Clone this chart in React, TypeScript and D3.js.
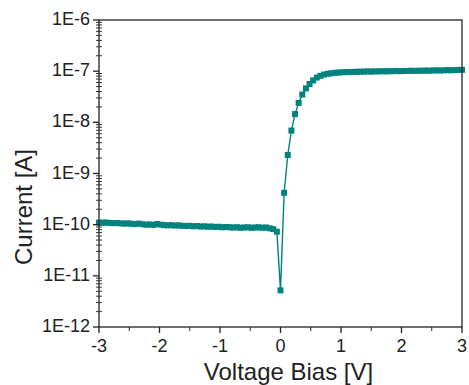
import React from "react";
import * as d3 from "d3";

const voltages: number[] = [
  -3.0, -2.94, -2.88, -2.82, -2.76, -2.7, -2.64, -2.58, -2.52, -2.46,
  -2.4, -2.34, -2.28, -2.22, -2.16, -2.1, -2.04, -1.98, -1.92, -1.86,
  -1.8, -1.74, -1.68, -1.62, -1.56, -1.5, -1.44, -1.38, -1.32, -1.26,
  -1.2, -1.14, -1.08, -1.02, -0.96, -0.9, -0.84, -0.78, -0.72, -0.66,
  -0.6, -0.54, -0.48, -0.42, -0.36, -0.3, -0.24, -0.18, -0.12, -0.06,
  0.0,
  0.06, 0.12, 0.18, 0.24, 0.3, 0.36, 0.42, 0.48, 0.54, 0.6,
  0.66, 0.72, 0.78, 0.84, 0.9, 0.96, 1.02, 1.08, 1.14, 1.2,
  1.26, 1.32, 1.38, 1.44, 1.5, 1.56, 1.62, 1.68, 1.74, 1.8,
  1.86, 1.92, 1.98, 2.04, 2.1, 2.16, 2.22, 2.28, 2.34, 2.4,
  2.46, 2.52, 2.58, 2.64, 2.7, 2.76, 2.82, 2.88, 2.94, 3.0,
];

const currents: number[] = [
  1.10e-10, 1.09e-10, 1.10e-10, 1.08e-10, 1.07e-10, 1.08e-10, 1.06e-10, 1.05e-10, 1.06e-10, 1.04e-10,
  1.03e-10, 1.05e-10, 1.02e-10, 1.0e-10, 1.01e-10, 9.9e-11, 1.03e-10, 1.0e-10, 9.8e-11, 9.7e-11,
  9.8e-11, 9.6e-11, 9.7e-11, 9.5e-11, 9.4e-11, 9.5e-11, 9.3e-11, 9.4e-11, 9.2e-11, 9.3e-11,
  9.1e-11, 9.2e-11, 9.0e-11, 9.1e-11, 8.9e-11, 9.0e-11, 8.9e-11, 8.8e-11, 8.9e-11, 8.7e-11,
  8.8e-11, 8.9e-11, 8.7e-11, 8.8e-11, 8.9e-11, 8.7e-11, 8.8e-11, 8.5e-11, 8.2e-11, 7.3e-11,
  5.2e-12,
  4.2e-10, 2.3e-9, 6.9e-9, 1.45e-8, 2.4e-8, 3.5e-8, 4.6e-8, 5.6e-8, 6.6e-8, 7.5e-8,
  8.1e-8, 8.6e-8, 8.9e-8, 9.1e-8, 9.3e-8, 9.4e-8, 9.5e-8, 9.6e-8, 9.6e-8, 9.7e-8,
  9.7e-8, 9.8e-8, 9.8e-8, 9.9e-8, 9.8e-8, 9.9e-8, 9.9e-8, 1.0e-7, 9.9e-8, 1.0e-7,
  1.0e-7, 1.01e-7, 1.0e-7, 1.01e-7, 1.01e-7, 1.02e-7, 1.01e-7, 1.02e-7, 1.02e-7, 1.03e-7,
  1.02e-7, 1.03e-7, 1.04e-7, 1.03e-7, 1.04e-7, 1.05e-7, 1.04e-7, 1.05e-7, 1.06e-7, 1.06e-7,
];

const xTicks: number[] = [-3, -2, -1, 0, 1, 2, 3];
const xTickLabels: string[] = ["-3", "-2", "-1", "0", "1", "2", "3"];
const yTicks: number[] = [1e-12, 1e-11, 1e-10, 1e-9, 1e-8, 1e-7, 1e-6];
const yTickLabels: string[] = ["1E-12", "1E-11", "1E-10", "1E-9", "1E-8", "1E-7", "1E-6"];
const xLabel = "Voltage Bias [V]";
const yLabel = "Current [A]";

const W = 469;
const H = 385;
const M = { left: 99, right: 7, top: 20, bottom: 58 };
const COLOR = "#00827f";
const FONT = "'Liberation Sans', Arial, sans-serif";

export default function App() {
  const x = d3.scaleLinear().domain([-3, 3]).range([M.left, W - M.right]);
  const y = d3.scaleLog().domain([1e-12, 1e-6]).range([H - M.bottom, M.top]);
  const pts = voltages.map((v, i) => [v, currents[i]] as [number, number]);
  const line = d3
    .line<[number, number]>()
    .x((d) => x(d[0]))
    .y((d) => y(d[1]));

  const minorX = d3.range(-2.5, 3, 1);
  const minorY: number[] = [];
  for (let e = -12; e < -6; e++) {
    for (let k = 2; k <= 9; k++) minorY.push(k * Math.pow(10, e));
  }
  const x0 = M.left;
  const x1 = W - M.right;
  const y0 = H - M.bottom;
  const y1 = M.top;
  const ms = 6;

  return (
    <svg
      width={W}
      height={H}
      style={{ position: "absolute", left: 0, top: 0, background: "#fff" }}
      fontFamily={FONT}
    >
      <rect x={0} y={0} width={W} height={H} fill="#fff" />
      <path d={line(pts) || ""} fill="none" stroke={COLOR} strokeWidth={1.4} />
      {pts.map((d, i) => (
        <rect
          key={i}
          x={x(d[0]) - ms / 2}
          y={y(d[1]) - ms / 2}
          width={ms}
          height={ms}
          fill={COLOR}
        />
      ))}
      <rect x={x0} y={y1} width={x1 - x0} height={y0 - y1} fill="none" stroke="#222" strokeWidth={1.3} />
      {xTicks.map((t, i) => (
        <g key={"xt" + i}>
          <line x1={x(t)} x2={x(t)} y1={y0} y2={y0 + 6} stroke="#222" strokeWidth={1.3} />
          <text x={x(t)} y={352} textAnchor="middle" fontSize={18} fill="#222">
            {xTickLabels[i]}
          </text>
        </g>
      ))}
      {minorX.map((t, i) => (
        <line key={"xm" + i} x1={x(t)} x2={x(t)} y1={y0} y2={y0 + 4} stroke="#222" strokeWidth={1} />
      ))}
      {yTicks.map((t, i) => (
        <g key={"yt" + i}>
          <line x1={x0 - 6} x2={x0} y1={y(t)} y2={y(t)} stroke="#222" strokeWidth={1.3} />
          <text x={x0 - 9} y={y(t) + 5} textAnchor="end" fontSize={18} fill="#222">
            {yTickLabels[i]}
          </text>
        </g>
      ))}
      {minorY.map((t, i) => (
        <line key={"ym" + i} x1={x0 - 3} x2={x0 + 3} y1={y(t)} y2={y(t)} stroke="#222" strokeWidth={0.9} />
      ))}
      <text x={(x0 + x1) / 2 + 8} y={380} textAnchor="middle" fontSize={24} fill="#222">
        {xLabel}
      </text>
      <text
        transform={`translate(${32}, ${207}) rotate(-90)`}
        textAnchor="middle"
        fontSize={24}
        fill="#222"
      >
        {yLabel}
      </text>
    </svg>
  );
}
